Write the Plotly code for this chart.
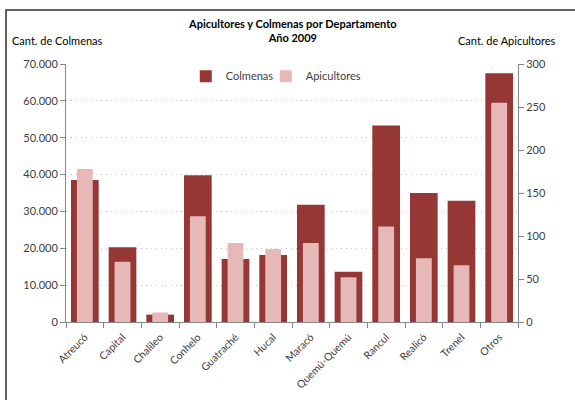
import plotly.graph_objects as go

departamentos = ["Atreucó", "Capital", "Chalileo", "Conhelo", "Guatraché", "Hucal",
                 "Maracó", "Quemú-Quemú", "Rancul", "Realicó", "Trenel", "Otros"]
colmenas = [38500, 20300, 2000, 39800, 17100, 18200, 31800, 13600, 53300, 35000, 32900, 67500]
apicultores = [178, 70, 11, 123, 92, 85, 92, 52, 111, 74, 66, 255]

font = "Lato, 'Open Sans', sans-serif"
gris = "#404040"

fig = go.Figure()
fig.add_trace(go.Bar(x=departamentos, y=colmenas, name="Colmenas", legend="legend",
                     marker=dict(color="#953735", line_width=0), width=0.735, yaxis="y"))
fig.add_trace(go.Bar(x=departamentos, y=apicultores, name="Apicultores", legend="legend2",
                     marker=dict(color="#E6B9B8", line_width=0), width=0.42, yaxis="y2"))

leyenda = dict(orientation="h", y=0.953, xanchor="left", yanchor="middle",
               font=dict(size=11, color=gris), bgcolor="rgba(0,0,0,0)")

fig.update_layout(
    width=575, height=400,
    margin=dict(l=66, r=57, t=64, b=78),
    paper_bgcolor="white", plot_bgcolor="white",
    separators=",.",
    font=dict(family=font, size=11, color=gris),
    showlegend=True,
    legend=dict(leyenda, x=0.265),
    legend2=dict(leyenda, x=0.442),
    xaxis=dict(showline=True, linecolor="#868686", ticks="outside", tickcolor="#868686",
               ticklen=5, tickson="boundaries", tickangle=-45, ticklabelstandoff=4,
               automargin=False, tickfont=dict(size=10.5, color=gris)),
    yaxis=dict(range=[0, 70000], dtick=10000, tickformat=",", showline=True,
               linecolor="#868686", ticks="outside", tickcolor="#868686", ticklen=5,
               showgrid=True, gridcolor="#c8c8c8", griddash="1px,4px", zeroline=False,
               automargin=False, tickfont=dict(size=11, color=gris)),
    yaxis2=dict(range=[0, 300], dtick=50, overlaying="y", side="right", showline=True,
                linecolor="#868686", ticks="outside", tickcolor="#868686", ticklen=5,
                showgrid=False, zeroline=False, automargin=False,
                tickfont=dict(size=11, color=gris)),
    shapes=[dict(type="rect", xref="paper", yref="paper", x0=-0.1327, x1=1.3,
                 y0=-0.6, y1=1.209, line=dict(color="#303030", width=1.5))],
    annotations=[
        dict(text="<b>Apicultores y Colmenas por Departamento</b><br><b>Año 2009</b>",
             xref="paper", yref="paper", x=0.502, y=(322 - 30) / 258, showarrow=False,
             font=dict(size=11, color="black"), xanchor="center", yanchor="middle"),
        dict(text="Cant. de Colmenas", xref="paper", yref="paper",
             x=(10 - 66) / 452, y=(322 - 40) / 258, xanchor="left", yanchor="middle",
             showarrow=False, font=dict(size=11, color="black")),
        dict(text="Cant. de Apicultores", xref="paper", yref="paper",
             x=(558 - 66) / 452, y=(322 - 40) / 258, xanchor="right", yanchor="middle",
             showarrow=False, font=dict(size=11, color="black")),
    ],
)

# the default page puts an 8px margin round the body
fig.write_html("out.html", config={"displayModeBar": False},
               post_script="document.body.style.margin='0';")
